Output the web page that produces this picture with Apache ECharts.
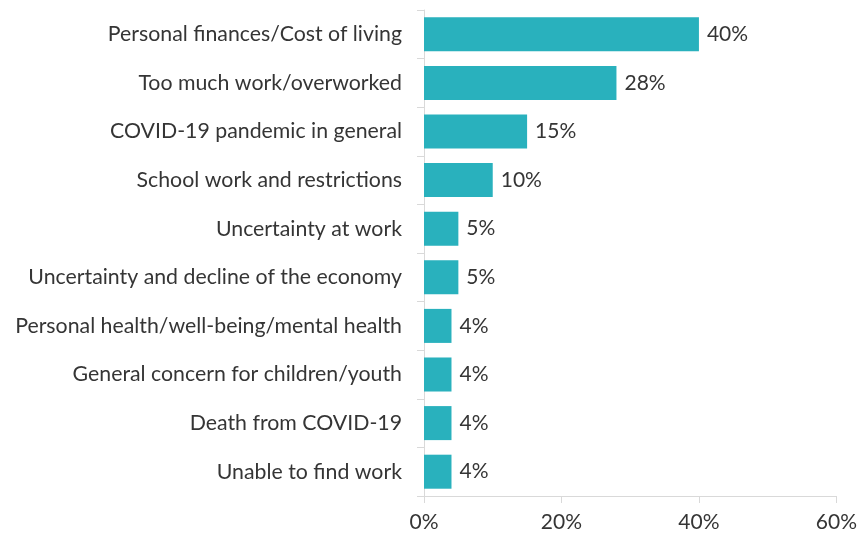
<!DOCTYPE html>
<html>
<head>
<meta charset="utf-8">
<script src="https://cdn.jsdelivr.net/npm/echarts@6/dist/echarts.min.js"></script>
<style>
  html, body { margin: 0; padding: 0; background: #fff; }
  #chart { width: 860px; height: 533px; }
</style>
</head>
<body>
<div id="chart"></div>
<script>
// Share of respondents naming each issue as their main worry (%)
const categories = [
  'Personal finances/Cost of living',
  'Too much work/overworked',
  'COVID-19 pandemic in general',
  'School work and restrictions',
  'Uncertainty at work',
  'Uncertainty and decline of the economy',
  'Personal health/well-being/mental health',
  'General concern for children/youth',
  'Death from COVID-19',
  'Unable to find work'
];
const values = [40, 28, 15, 10, 5, 5, 4, 4, 4, 4];
const xTicks = [0, 20, 40, 60];

const FONT = 'Lato, "Open Sans", sans-serif';
const TEXT = '#353535';
const AXIS = '#d9d9d9';
const chart = echarts.init(document.getElementById('chart'), null, { renderer: 'canvas' });

chart.setOption({
  animation: false,
  grid: { left: 424, right: 21, top: 10, bottom: 35, containLabel: false },
  xAxis: {
    type: 'value',
    min: xTicks[0],
    max: xTicks[xTicks.length - 1],
    interval: xTicks[1] - xTicks[0],
    axisLine: { show: true, lineStyle: { color: AXIS, width: 1 } },
    axisTick: { show: true, length: 7, lineStyle: { color: AXIS } },
    splitLine: { show: false },
    axisLabel: {
      formatter: v => v + '%',
      color: TEXT,
      fontFamily: FONT,
      fontSize: 21,
      margin: 16
    }
  },
  yAxis: {
    type: 'category',
    data: categories,
    inverse: true,
    axisLine: { show: true, lineStyle: { color: AXIS, width: 1 } },
    axisTick: { show: true, length: 7, lineStyle: { color: AXIS } },
    axisLabel: {
      color: TEXT,
      fontFamily: FONT,
      fontSize: 21.3,
      margin: 22
    }
  },
  series: [{
    type: 'bar',
    data: values,
    barCategoryGap: '30%',
    itemStyle: { color: '#29b1bd' },
    label: {
      show: true,
      position: 'right',
      distance: 8,
      formatter: p => p.value + '%',
      color: TEXT,
      fontFamily: FONT,
      fontSize: 21
    }
  }]
});
</script>
</body>
</html>
